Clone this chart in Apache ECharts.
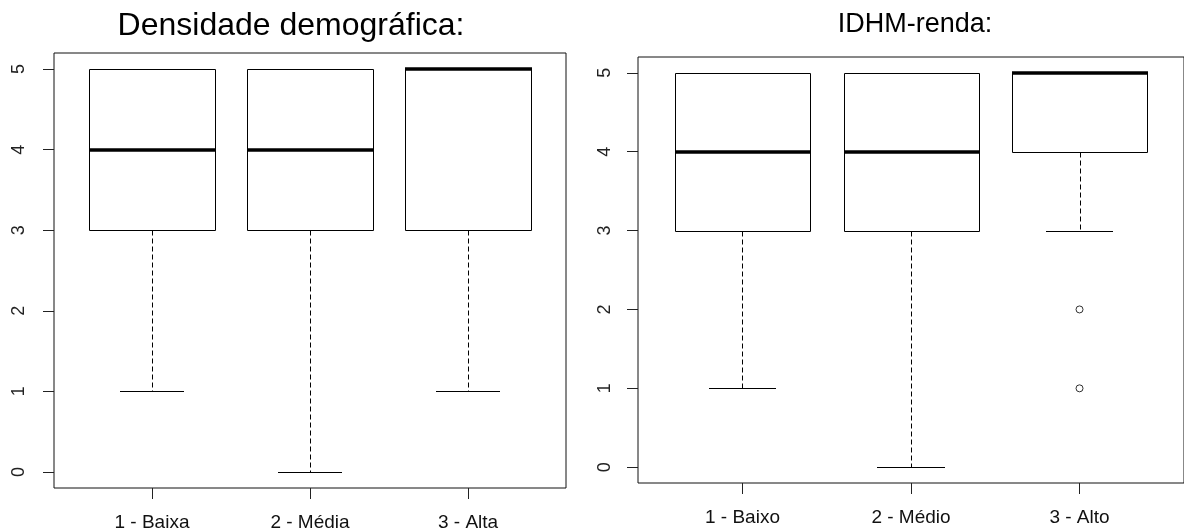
<!DOCTYPE html>
<html>
<head>
<meta charset="utf-8">
<script src="https://cdn.jsdelivr.net/npm/echarts@6/dist/echarts.min.js"></script>
<style>
html,body{margin:0;padding:0;background:#fff;}
#chart{width:1184px;height:532px;}
</style>
</head>
<body>
<div id="chart"></div>
<script>
// ---- data ----
const leftTitle = 'Densidade demográfica:';
const rightTitle = 'IDHM-renda:';
const leftCats = ['1 - Baixa', '2 - Média', '3 - Alta'];
const rightCats = ['1 - Baixo', '2 - Médio', '3 - Alto'];
// [lower whisker, Q1, median, Q3, upper whisker]
const leftStats = [[1, 3, 4, 5, 5], [0, 3, 4, 5, 5], [1, 3, 5, 5, 5]];
const rightStats = [[1, 3, 4, 5, 5], [0, 3, 4, 5, 5], [3, 4, 5, 5, 5]];
// outliers: [group index (1-based), value]
const rightOutliers = [[3, 2], [3, 1]];
const yTicks = [0, 1, 2, 3, 4, 5];
const xTicks = [1, 2, 3];

const FONT = '"Liberation Sans", Arial, sans-serif';
const chart = echarts.init(document.getElementById('chart'), null, {renderer: 'canvas'});

function px(v) { return Math.round(v) + 0.5; }

function renderBox(params, api) {
  const x = api.value(0);
  const lo = api.value(1), q1 = api.value(2), md = api.value(3), q3 = api.value(4), hi = api.value(5);
  const cL = api.coord([x - 0.4, 0])[0];
  const cR = api.coord([x + 0.4, 0])[0];
  const sL = api.coord([x - 0.2, 0])[0];
  const sR = api.coord([x + 0.2, 0])[0];
  const cx = px(api.coord([x, 0])[0]);
  const yLo = px(api.coord([x, lo])[1]);
  const yQ1 = px(api.coord([x, q1])[1]);
  const yMd = api.coord([x, md])[1];
  const yQ3 = px(api.coord([x, q3])[1]);
  const yHi = px(api.coord([x, hi])[1]);
  const thin = {stroke: '#000', lineWidth: 1, fill: null};
  const dash = {stroke: '#000', lineWidth: 1, lineDash: [5, 3], fill: null};
  const children = [];
  if (yLo !== yQ1) children.push({type: 'line', shape: {x1: cx, y1: yQ1, x2: cx, y2: yLo}, style: dash});
  if (yHi !== yQ3) children.push({type: 'line', shape: {x1: cx, y1: yQ3, x2: cx, y2: yHi}, style: dash});
  children.push({type: 'line', shape: {x1: Math.round(sL), y1: yLo, x2: Math.round(sR), y2: yLo}, style: thin});
  children.push({type: 'line', shape: {x1: Math.round(sL), y1: yHi, x2: Math.round(sR), y2: yHi}, style: thin});
  children.push({type: 'rect', shape: {x: px(cL), y: yQ3, width: Math.round(cR - cL), height: yQ1 - yQ3},
    style: {stroke: '#000', lineWidth: 1, fill: 'rgba(0,0,0,0)'}});
  children.push({type: 'line', shape: {x1: Math.round(cL), y1: Math.round(yMd), x2: Math.round(cR) + 1, y2: Math.round(yMd)},
    style: {stroke: '#000', lineWidth: 3.5}});
  return {type: 'group', children: children};
}

function boxData(stats) {
  return stats.map((s, i) => [i + 1].concat(s));
}

function xAxisFor(idx, cats) {
  return {
    type: 'value', gridIndex: idx, min: 0.38, max: 3.62, position: 'bottom',
    axisLine: {show: false, onZero: false},
    splitLine: {show: false},
    axisTick: {show: true, inside: false, customValues: xTicks, length: 11, lineStyle: {color: '#222', width: 1}},
    axisLabel: {show: true, customValues: xTicks, margin: 25, fontSize: 19, color: '#111', fontFamily: FONT,
      formatter: v => cats[Math.round(v) - 1]}
  };
}
function yAxisFor(idx, margin) {
  return {
    type: 'value', gridIndex: idx, min: -0.2, max: 5.2, position: 'left',
    axisLine: {show: false, onZero: false},
    splitLine: {show: false},
    axisTick: {show: true, inside: false, customValues: yTicks, length: 11, lineStyle: {color: '#222', width: 1}},
    axisLabel: {show: true, customValues: yTicks, rotate: 90, margin: margin, fontSize: 18, color: '#222', fontFamily: FONT,
      verticalAlign: 'middle', align: 'center'}
  };
}

const option = {
  backgroundColor: '#fff',
  animation: false,
  title: [
    {text: leftTitle, left: 286, top: 5, textAlign: 'center',
      textStyle: {fontSize: 32, fontWeight: 'normal', color: '#000', fontFamily: FONT}},
    {text: rightTitle, left: 910, top: 6, textAlign: 'center',
      textStyle: {fontSize: 27, fontWeight: 'normal', color: '#000', fontFamily: FONT}}
  ],
  grid: [
    {left: 54, top: 53, width: 512, height: 436, show: true, borderColor: '#111', borderWidth: 1, backgroundColor: 'transparent', containLabel: false},
    {left: 638, top: 57, width: 552, height: 426, show: true, borderColor: '#111', borderWidth: 1, backgroundColor: 'transparent', containLabel: false}
  ],
  xAxis: [xAxisFor(0, leftCats), xAxisFor(1, rightCats)],
  yAxis: [yAxisFor(0, 35), yAxisFor(1, 33)],
  series: [
    {type: 'custom', xAxisIndex: 0, yAxisIndex: 0, data: boxData(leftStats), renderItem: renderBox,
      encode: {x: 0, y: [1, 2, 3, 4, 5]}, clip: false},
    {type: 'custom', xAxisIndex: 1, yAxisIndex: 1, data: boxData(rightStats), renderItem: renderBox,
      encode: {x: 0, y: [1, 2, 3, 4, 5]}, clip: false},
    {type: 'scatter', xAxisIndex: 1, yAxisIndex: 1, data: rightOutliers, symbol: 'circle', symbolSize: 7,
      itemStyle: {color: '#fff', borderColor: '#000', borderWidth: 1}}
  ]
};
chart.setOption(option);
</script>
</body>
</html>
